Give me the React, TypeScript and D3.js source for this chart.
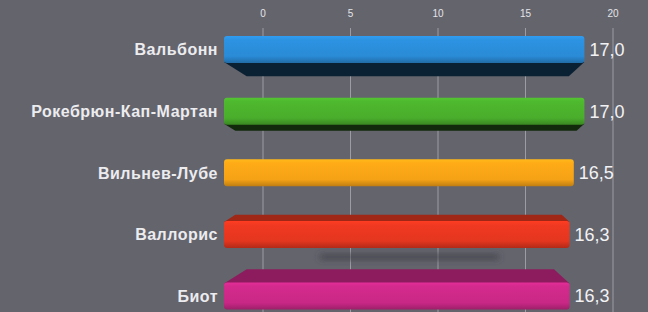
import * as d3 from 'd3';
import * as React from 'react';

const { useRef, useEffect } = React;

const width = 648;
const height = 312;

const categories = ['Вальбонн', 'Рокебрюн-Кап-Мартан', 'Вильнев-Лубе', 'Валлорис', 'Биот'];
const values = [17.0, 17.0, 16.5, 16.3, 16.3];
const colors = ['#2a8bd6', '#4aae2c', '#f5a216', '#e4361f', '#c92886'];
const ticks = [0, 5, 10, 15, 20];

export default () => {
  const rootRef = useRef<HTMLDivElement>(null);

  useEffect(() => {
    const rootEl = rootRef.current;
    if (!rootEl) return;
    d3.select(rootEl).selectAll('*').remove();

    // axis and bars don't share the same scale in the original (perspective)
    const xAxisScale = d3.scaleLinear().domain([0, 20]).range([263, 613]);
    const xBar = d3.scaleLinear().domain([0, 20]).range([224, 648]);
    const y = d3.scalePoint<string>().domain(categories).range([49.5, 296]);
    const barH = 27;
    const horizon = y(categories[2]) as number;

    const svg = d3
      .select(rootEl)
      .append('svg')
      .attr('width', width)
      .attr('height', height)
      .attr('viewBox', `0,0,${width},${height}`)
      .style('position', 'fixed')
      .style('left', 0)
      .style('top', 0)
      .style('font-family', '"Liberation Sans", Arial, sans-serif');

    const defs = svg.append('defs');
    defs
      .append('filter')
      .attr('id', 'blur')
      .attr('x', '-20%')
      .attr('y', '-200%')
      .attr('width', '140%')
      .attr('height', '500%')
      .append('feGaussianBlur')
      .attr('stdDeviation', 3);

    colors.forEach((c, i) => {
      const g = defs
        .append('linearGradient')
        .attr('id', `grad${i}`)
        .attr('x1', 0)
        .attr('y1', 0)
        .attr('x2', 0)
        .attr('y2', 1);
      const base = d3.color(c)!;
      g.append('stop').attr('offset', '0%').attr('stop-color', base.brighter(0.35).formatHex());
      g.append('stop').attr('offset', '15%').attr('stop-color', base.brighter(0.15).formatHex());
      g.append('stop').attr('offset', '75%').attr('stop-color', c);
      g.append('stop').attr('offset', '100%').attr('stop-color', base.darker(0.7).formatHex());
    });

    svg.append('rect').attr('width', width).attr('height', height).attr('fill', '#64646d');

    // gridlines
    svg
      .append('g')
      .selectAll('line')
      .data(ticks)
      .join('line')
      .attr('x1', d => xAxisScale(d))
      .attr('x2', d => xAxisScale(d))
      .attr('y1', 28)
      .attr('y2', height)
      .attr('stroke', '#9c9ca4')
      .attr('stroke-width', 1);

    // tick labels
    svg
      .append('g')
      .selectAll('text')
      .data(ticks)
      .join('text')
      .attr('x', d => xAxisScale(d))
      .attr('y', 13)
      .attr('dy', '0.35em')
      .attr('text-anchor', 'middle')
      .attr('font-size', 10)
      .attr('fill', '#e4e4e8')
      .text(d => d);

    // soft shadow between red and purple bars
    svg
      .append('rect')
      .attr('x', xBar(4.5))
      .attr('width', xBar(13) - xBar(4.5))
      .attr('y', 255)
      .attr('height', 4)
      .attr('rx', 2)
      .attr('fill', '#3c3c44')
      .attr('filter', 'url(#blur)');

    const bars = svg
      .append('g')
      .selectAll('g')
      .data(categories.map((c, i) => ({ c, v: values[i], i })))
      .join('g');

    // perspective face (bottom face above horizon, top face below)
    bars
      .append('path')
      .attr('fill', d => {
        const base = d3.color(colors[d.i])!;
        const cy = y(d.c) as number;
        return cy < horizon ? base.darker(4).formatHex() : base.darker(1).formatHex();
      })
      .attr('d', d => {
        const cy = y(d.c) as number;
        const x0 = xBar(0);
        const x1 = xBar(d.v);
        const depth = (cy - horizon) * 0.115;
        const edge = depth < 0 ? cy + barH / 2 - 1 : cy - barH / 2 + 1;
        const far = edge - depth;
        const inL = Math.abs(depth) * 1.6;
        const inR = Math.abs(depth) * 1.1;
        return `M${x0},${edge}L${x1},${edge}L${x1 - inR},${far}L${x0 + inL},${far}Z`;
      });

    // front face
    bars
      .append('rect')
      .attr('x', xBar(0))
      .attr('y', d => (y(d.c) as number) - barH / 2)
      .attr('width', d => xBar(d.v) - xBar(0))
      .attr('height', barH)
      .attr('rx', 3)
      .attr('fill', d => `url(#grad${d.i})`);

    // value labels
    bars
      .append('text')
      .attr('x', d => xBar(d.v) + 5)
      .attr('y', d => y(d.c) as number)
      .attr('dy', '0.36em')
      .attr('font-size', 18)
      .attr('fill', '#f2f2f4')
      .text(d => d.v.toFixed(1).replace('.', ','));

    // category labels
    bars
      .append('text')
      .attr('x', 218)
      .attr('y', d => y(d.c) as number)
      .attr('dy', '0.36em')
      .attr('text-anchor', 'end')
      .attr('font-size', 16)
      .attr('letter-spacing', 0.5)
      .attr('font-weight', 'bold')
      .attr('fill', '#ececef')
      .text(d => d.c);
  }, []);

  return <div ref={rootRef} />;
};
